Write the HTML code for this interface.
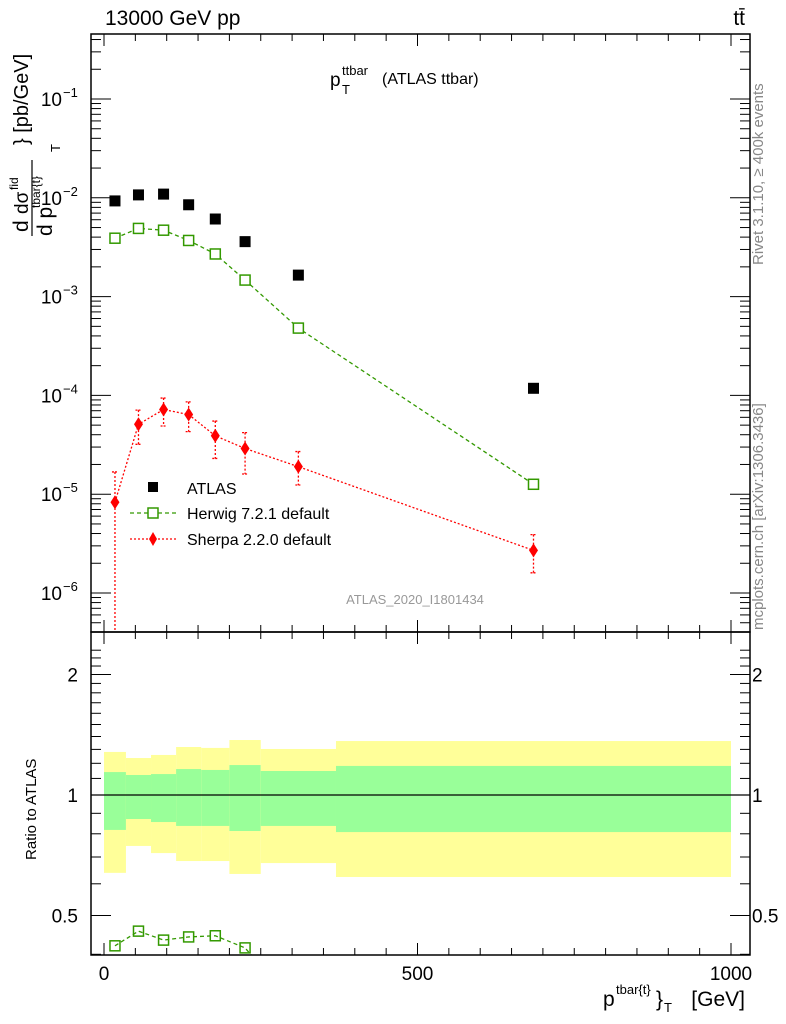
<!DOCTYPE html>
<html><head><meta charset="utf-8">
<style>
html,body{margin:0;padding:0;background:#fff;width:786px;height:1024px;overflow:hidden;}
svg{display:block;font-family:"Liberation Sans",sans-serif;}
</style></head>
<body>
<svg id="chart" width="786" height="1024" viewBox="0 0 786 1024" xmlns="http://www.w3.org/2000/svg">
<defs><clipPath id="cm"><rect x="91" y="34" width="659" height="598"/></clipPath><clipPath id="cr"><rect x="91" y="632" width="659" height="323"/></clipPath></defs>
<g id="bands"></g>
<g id="marks"></g>
<g id="axes"></g>
<text x="105" y="25" font-size="21">13000 GeV pp</text>
<text x="745" y="25" font-size="21" text-anchor="end">tt̄</text>
<g>
<text x="330" y="86" font-size="19">p</text>
<text x="342" y="75" font-size="13">ttbar</text>
<text x="342" y="94" font-size="13">T</text>
<text x="382" y="84" font-size="16">(ATLAS ttbar)</text>
</g>
<text x="415" y="604" font-size="13" fill="#999" text-anchor="middle">ATLAS_2020_I1801434</text>
<text transform="translate(763,265) rotate(-90)" font-size="15" fill="#888">Rivet 3.1.10, ≥ 400k events</text>
<text transform="translate(763,630) rotate(-90)" font-size="15" fill="#888">mcplots.cern.ch [arXiv:1306.3436]</text>
<g>
<text transform="translate(28,232) rotate(-90)" font-size="21">d</text>
<text transform="translate(28,214) rotate(-90)" font-size="19">dσ</text>
<text transform="translate(18,190) rotate(-90)" font-size="12">fid</text>
<line x1="32" y1="160" x2="32" y2="236" stroke="#000" stroke-width="1.2"/>
<text transform="translate(52,236) rotate(-90)" font-size="21">d p</text>
<text transform="translate(40,208) rotate(-90)" font-size="12">tbar{t}</text>
<text transform="translate(28,145) rotate(-90)" font-size="20">} [pb/GeV]</text>
<text transform="translate(60,152) rotate(-90)" font-size="13">T</text>
</g>
<text transform="translate(36,860) rotate(-90)" font-size="15">Ratio to ATLAS</text>
<g>
<text x="603" y="1006" font-size="21">p</text>
<text x="616" y="994" font-size="13">tbar{t}</text>
<text x="656" y="1006" font-size="21">}</text>
<text x="664" y="1012" font-size="13">T</text>
<text x="745" y="1006" font-size="21" text-anchor="end">[GeV]</text>
</g>
<g>
<rect x="148" y="482" width="10" height="10" fill="#000"/>
<text x="187" y="494" font-size="16">ATLAS</text>
<line x1="130" y1="513" x2="176" y2="513" stroke="#339900" stroke-width="1.3" stroke-dasharray="4,3"/>
<rect x="148" y="508" width="10" height="10" fill="#fff" stroke="#339900" stroke-width="1.5"/>
<text x="187" y="519" font-size="16">Herwig 7.2.1 default</text>
<line x1="130" y1="539" x2="176" y2="539" stroke="red" stroke-width="1.3" stroke-dasharray="2,2"/>
<path d="M153,532 L157,539 L153,546 L149,539 Z" fill="red"/>
<text x="187" y="545" font-size="16">Sherpa 2.2.0 default</text>
</g>
</svg>
<script>
const binEdges=[0,35,75,115,155,200,250,370,1000];
const binCenters=[17.5,55,95,135,177.5,225,310,685];
const atlasValues=[9.3e-3,1.07e-2,1.09e-2,8.5e-3,6.1e-3,3.6e-3,1.65e-3,1.18e-4];
const herwigValues=[3.9e-3,4.9e-3,4.7e-3,3.7e-3,2.7e-3,1.47e-3,4.8e-4,1.26e-5];
const sherpaValues=[8.3e-6,5.1e-5,7.2e-5,6.4e-5,3.9e-5,2.9e-5,1.9e-5,2.7e-6];
const sherpaUp=[1.68e-5,7.1e-5,9.4e-5,8.6e-5,5.5e-5,4.2e-5,2.7e-5,3.9e-6];
const sherpaDown=[1e-8,3.2e-5,4.9e-5,4.3e-5,2.3e-5,1.6e-5,1.24e-5,1.6e-6];
const herwigRatio=[0.42,0.457,0.434,0.442,0.445,0.415,0.29,0.107];
const yellowUp=[1.281,1.237,1.259,1.318,1.311,1.372,1.303,1.364];
const greenUp=[1.141,1.122,1.128,1.161,1.155,1.188,1.148,1.182];
const greenDown=[0.818,0.871,0.856,0.837,0.837,0.813,0.837,0.808];
const yellowDown=[0.639,0.746,0.716,0.684,0.684,0.635,0.676,0.624];
const xTickLabels=[0,500,1000];
const yTickExps=[-1,-2,-3,-4,-5,-6];
const ratioTickLabels=[2,1,0.5];

const NS="http://www.w3.org/2000/svg";
const L=91,R=750,T=34,MB=632,RB=955;
const X=v=>104+v*0.627;
const Y=v=>99+(-1-Math.log10(v))*98.8;
const YR=v=>795-Math.log2(v)*120.5;
function mk(p,tag,at){const e=document.createElementNS(NS,tag);for(const k in at)e.setAttribute(k,at[k]);p.appendChild(e);return e;}
const bands=document.getElementById('bands'),marks=document.getElementById('marks'),axes=document.getElementById('axes');

for(let i=0;i<binCenters.length;i++){
  const x0=X(binEdges[i]),x1=X(binEdges[i+1]);
  const y=mk(bands,'rect',{x:x0,y:YR(yellowUp[i]),width:x1-x0,height:YR(yellowDown[i])-YR(yellowUp[i]),fill:'#ffff99'});
  
  
  const g=mk(bands,'rect',{x:x0,y:YR(greenUp[i]),width:x1-x0,height:YR(greenDown[i])-YR(greenUp[i]),fill:'#99ff99'});
  
  
}
mk(bands,'line',{x1:L,x2:R,y1:YR(1),y2:YR(1),stroke:'#000','stroke-width':1.2});

const gm=mk(marks,'g',{'clip-path':'url(#cm)'});
const gr=mk(marks,'g',{'clip-path':'url(#cr)'});
let hp='',sp='',rp='';
binCenters.forEach((c,i)=>{hp+=(i?'L':'M')+X(c)+','+Y(herwigValues[i]);sp+=(i?'L':'M')+X(c)+','+Y(sherpaValues[i]);rp+=(i?'L':'M')+X(c)+','+YR(herwigRatio[i]);});
mk(gm,'path',{d:hp,fill:'none',stroke:'#339900','stroke-width':1.3,'stroke-dasharray':'4,3'});
mk(gm,'path',{d:sp,fill:'none',stroke:'red','stroke-width':1.3,'stroke-dasharray':'2,2'});
mk(gr,'path',{d:rp,fill:'none',stroke:'#339900','stroke-width':1.3,'stroke-dasharray':'4,3'});
binCenters.forEach((c,i)=>{
  const x=X(c);
  const a=mk(gm,'rect',{x:x-5.5,y:Y(atlasValues[i])-5.5,width:11,height:11,fill:'#000'});
  
  
  const h=mk(gm,'rect',{x:x-5,y:Y(herwigValues[i])-5,width:10,height:10,fill:'#fff',stroke:'#339900','stroke-width':1.5});
  
  
  mk(gm,'line',{x1:x,x2:x,y1:Y(sherpaUp[i]),y2:Y(sherpaDown[i]),stroke:'red','stroke-width':1.3,'stroke-dasharray':'2,2'});
  mk(gm,'line',{x1:x-3,x2:x+3,y1:Y(sherpaUp[i]),y2:Y(sherpaUp[i]),stroke:'red','stroke-width':1.3,'stroke-dasharray':'2,1'});
  mk(gm,'line',{x1:x-3,x2:x+3,y1:Y(sherpaDown[i]),y2:Y(sherpaDown[i]),stroke:'red','stroke-width':1.3,'stroke-dasharray':'2,1'});
  const yS=Y(sherpaValues[i]);
  const s=mk(gm,'path',{d:`M${x},${yS-7}L${x+4.5},${yS}L${x},${yS+7}L${x-4.5},${yS}Z`,fill:'red'});
  
  
  const r=mk(gr,'rect',{x:x-5,y:YR(herwigRatio[i])-5,width:10,height:10,fill:'none',stroke:'#339900','stroke-width':1.5});
  
  
});

mk(axes,'rect',{x:L,y:T,width:R-L,height:MB-T,fill:'none',stroke:'#000','stroke-width':1.5});
mk(axes,'rect',{x:L,y:MB,width:R-L,height:RB-MB,fill:'none',stroke:'#000','stroke-width':1.5});
for(let v=0;v<=1000;v+=50){
  const x=X(v),len=(v%500===0)?12:7;
  [[T,1],[MB,-1],[MB,1],[RB,-1]].forEach(([y,d])=>mk(axes,'line',{x1:x,x2:x,y1:y,y2:y+d*len,stroke:'#000','stroke-width':1}));
}
xTickLabels.forEach(v=>{const t=mk(axes,'text',{x:X(v),y:980,'font-size':19,'text-anchor':'middle'});t.textContent=v;
  
  });
for(let e=-7;e<=0;e++){for(let m=1;m<10;m++){const v=m*Math.pow(10,e),y=Y(v);if(y<T||y>MB)continue;const len=m===1?20:10;
  mk(axes,'line',{x1:L,x2:L+len,y1:y,y2:y,stroke:'#000'});mk(axes,'line',{x1:R,x2:R-len,y1:y,y2:y,stroke:'#000'});}}
yTickExps.forEach(e=>{const y=Y(Math.pow(10,e));
  const t=mk(axes,'text',{x:62,y:y+7,'font-size':19,'text-anchor':'end'});t.textContent='10';
  
  
  const t2=mk(axes,'text',{x:63,y:y-2,'font-size':13});t2.textContent='−'+(-e);
  
  });
for(let k=4;k<=23;k++){const v=k/10,y=YR(v);if(y<MB||y>RB)continue;const maj=(k===5||k===10||k===20);const len=maj?20:10;
  mk(axes,'line',{x1:L,x2:L+len,y1:y,y2:y,stroke:'#000'});mk(axes,'line',{x1:R,x2:R-len,y1:y,y2:y,stroke:'#000'});}
ratioTickLabels.forEach(v=>{const y=YR(v)+7;
  const t=mk(axes,'text',{x:78,y:y,'font-size':19,'text-anchor':'end'});t.textContent=v;
  
  
  const t2=mk(axes,'text',{x:752,y:y,'font-size':19});t2.textContent=v;
  
  });
</script>
</body></html>
